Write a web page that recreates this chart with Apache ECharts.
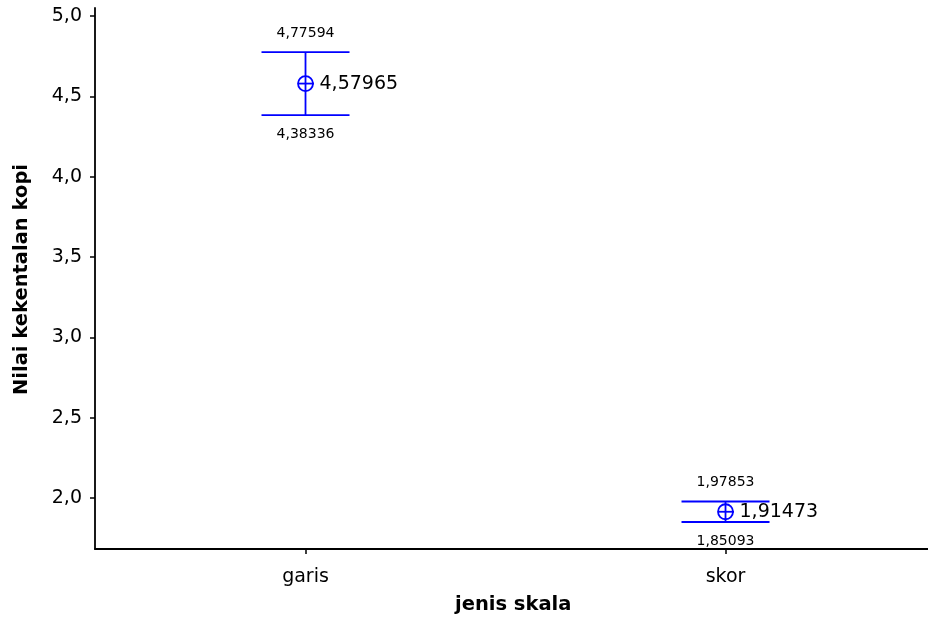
<!DOCTYPE html>
<html>
<head>
<meta charset="utf-8">
<script src="https://cdn.jsdelivr.net/npm/echarts@6/dist/echarts.min.js"></script>
<style>
  html, body { margin: 0; padding: 0; background: #fff; }
  #chart { width: 928px; height: 618px; }
</style>
</head>
<body>
<div id="chart"></div>
<script>
// Mean and interval bounds of coffee viscosity per scale type
const categories = ['garis', 'skor'];
const means = [4.57965, 1.91473];
const lowers = [4.38336, 1.85093];
const uppers = [4.77594, 1.97853];
const yTicks = [2.0, 2.5, 3.0, 3.5, 4.0, 4.5, 5.0];

const fmt = v => String(v).replace('.', ',');
const fmtTick = v => v.toFixed(1).replace('.', ',');
const FONT = 'DejaVu Sans';
const BLUE = '#0000ff';

const data = categories.map((c, i) => [i, means[i], lowers[i], uppers[i]]);

const chart = echarts.init(document.getElementById('chart'), null, { renderer: 'canvas' });

chart.setOption({
  animation: false,
  backgroundColor: '#fff',
  grid: { left: 95, right: 0, top: 8, bottom: 69 },
  xAxis: {
    type: 'value',
    min: -0.5012,
    max: 1.4821,
    splitLine: { show: false },
    axisLine: { show: true, onZero: false, lineStyle: { color: '#000', width: 1.8 } },
    axisTick: { show: true, customValues: [0, 1], length: 5, lineStyle: { color: '#000', width: 1.5 } },
    axisLabel: {
      customValues: [0, 1],
      formatter: v => categories[Math.round(v)],
      color: '#000', fontFamily: FONT, fontSize: 19, margin: 19
    }
  },
  yAxis: {
    type: 'value',
    min: 1.683,
    max: 5.05,
    splitLine: { show: false },
    axisLine: { show: true, onZero: false, lineStyle: { color: '#000', width: 1.8 } },
    axisTick: { show: true, customValues: yTicks, length: 5, lineStyle: { color: '#000', width: 1.5 } },
    axisLabel: {
      customValues: yTicks,
      formatter: fmtTick,
      color: '#000', fontFamily: FONT, fontSize: 19, margin: 13
    }
  },
  graphic: [
    {
      type: 'text', left: 455, top: 595,
      style: { text: 'jenis skala', font: 'bold 19.5px "DejaVu Sans"', fill: '#000' }
    },
    {
      type: 'text', x: 12, y: 395, rotation: Math.PI / 2,
      style: { text: 'Nilai kekentalan kopi', font: 'bold 19.5px "DejaVu Sans"', fill: '#000' }
    }
  ],
  series: [{
    type: 'custom',
    data: data,
    clip: false,
    renderItem: (params, api) => {
      const x = api.value(0);
      const m = api.coord([x, api.value(1)]);
      const lo = api.coord([x, api.value(2)]);
      const hi = api.coord([x, api.value(3)]);
      const cap = 44;
      const r = 7.5;
      const ls = { stroke: BLUE, lineWidth: 1.8, fill: null };
      return {
        type: 'group',
        children: [
          { type: 'line', shape: { x1: m[0], y1: hi[1], x2: m[0], y2: lo[1] }, style: ls },
          { type: 'line', shape: { x1: m[0] - cap, y1: hi[1], x2: m[0] + cap, y2: hi[1] }, style: ls },
          { type: 'line', shape: { x1: m[0] - cap, y1: lo[1], x2: m[0] + cap, y2: lo[1] }, style: ls },
          { type: 'circle', shape: { cx: m[0], cy: m[1], r: r }, style: ls },
          { type: 'line', shape: { x1: m[0] - r, y1: m[1], x2: m[0] + r + 1, y2: m[1] }, style: ls },
          {
            type: 'text', x: m[0] + 14, y: m[1],
            style: { text: fmt(api.value(1)), font: '19px "DejaVu Sans"', fill: '#000', verticalAlign: 'middle', align: 'left' }
          },
          {
            type: 'text', x: m[0], y: hi[1] - 19,
            style: { text: fmt(api.value(3)), font: '14px "DejaVu Sans"', fill: '#000', verticalAlign: 'middle', align: 'center' }
          },
          {
            type: 'text', x: m[0], y: lo[1] + 19,
            style: { text: fmt(api.value(2)), font: '14px "DejaVu Sans"', fill: '#000', verticalAlign: 'middle', align: 'center' }
          }
        ]
      };
    }
  }]
});
</script>
</body>
</html>
